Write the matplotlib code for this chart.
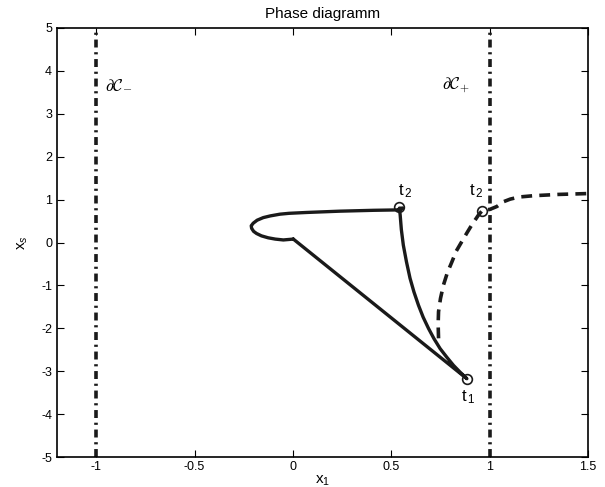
import numpy as np
import matplotlib
matplotlib.use('Agg')
import matplotlib.pyplot as plt

plt.rcParams['font.family'] = ['Liberation Sans', 'DejaVu Sans']
plt.rcParams['mathtext.fontset'] = 'custom'
plt.rcParams['mathtext.rm'] = 'Liberation Sans'
plt.rcParams['mathtext.it'] = 'Liberation Sans:italic'

# solid trajectory: junction near origin -> t1 -> t2 -> loop back to origin
solid_x = [0.002, 0.884, 0.85, 0.816, 0.782, 0.748, 0.717, 0.689, 0.662, 0.638,
           0.615, 0.595, 0.577, 0.561, 0.551, 0.545, 0.541,
           0.56, 0.541, 0.409, 0.239, 0.07, -0.02, -0.066, -0.115, -0.151,
           -0.182, -0.202, -0.212, -0.21, -0.2, -0.185, -0.16, -0.126, -0.09,
           -0.049, 0.002]
solid_y = [0.08, -3.17, -3.02, -2.86, -2.67, -2.47, -2.24, -2.0, -1.74, -1.46,
           -1.15, -0.83, -0.45, -0.06, 0.3, 0.64, 0.80,
           0.80, 0.76, 0.75, 0.73, 0.70, 0.68, 0.66, 0.62, 0.58,
           0.52, 0.45, 0.39, 0.33, 0.26, 0.21, 0.155, 0.11, 0.08,
           0.06, 0.08]

# dashed trajectory
dash_x = [0.74, 0.738, 0.74, 0.75, 0.765, 0.785, 0.808, 0.83, 0.858, 0.885, 0.909,
          0.943, 0.965, 1.0, 1.037, 1.07, 1.104, 1.15, 1.223, 1.35, 1.5]
dash_y = [-2.23, -1.9, -1.61, -1.3, -0.99, -0.7, -0.45, -0.2, 0.02, 0.23, 0.41,
          0.64, 0.76, 0.77, 0.84, 0.95, 1.01, 1.06, 1.09, 1.12, 1.14]

# marked points
mark_x = [0.884, 0.538, 0.962]
mark_y = [-3.17, 0.82, 0.74]

bounds = [-1, 1]

fig = plt.figure(figsize=(6.05, 4.87), dpi=100)
ax = fig.add_axes([0.094, 0.061, 0.878, 0.882])

for b in bounds:
    ax.plot([b, b], [-5, 5], color='#1a1a1a', lw=2.6,
            linestyle=(0, (2.2, 1.3, 0.6, 1.3)))

ax.plot(solid_x, solid_y, color='#1a1a1a', lw=2.4, solid_capstyle='round',
        solid_joinstyle='round')
ax.plot(dash_x, dash_y, color='#1a1a1a', lw=2.6, linestyle=(0, (3, 2)))
ax.plot(mark_x, mark_y, 'o', mfc='none', mec='#1a1a1a', ms=7, mew=1.2)

ax.text(-0.957, 3.67, r'$\partial\mathcal{C}_{-}$', math_fontfamily='cm',
        fontsize=12, ha='left', va='center')
ax.text(0.9, 3.67, r'$\partial\mathcal{C}_{+}$', math_fontfamily='cm',
        fontsize=12, ha='right', va='center')

ax.text(0.535, 1.0, 't$_{\\,2}$', fontsize=12, ha='left', va='bottom')
ax.text(0.895, 1.0, 't$_{\\,2}$', fontsize=12, ha='left', va='bottom')
ax.text(0.855, -3.4, 't$_{\\,1}$', fontsize=12, ha='left', va='top')

ax.set_xlim(-1.2, 1.5)
ax.set_ylim(-5, 5)
ax.set_xticks([-1, -0.5, 0, 0.5, 1, 1.5])
ax.set_xticklabels(['-1', '-0.5', '0', '0.5', '1', '1.5'])
ax.set_yticks(range(-5, 6))
ax.set_yticklabels([str(v) for v in range(-5, 6)])
ax.tick_params(direction='in', top=True, right=True, labelsize=9, length=5)
ax.tick_params(axis='x', pad=3)
for s in ax.spines.values():
    s.set_linewidth(1.2)

ax.set_title('Phase diagramm', fontsize=11, pad=7)
ax.set_xlabel('x$_1$', fontsize=11, labelpad=0)
ax.set_ylabel('x$_s$', fontsize=11, labelpad=8)

fig.savefig('out.png', dpi=100)
